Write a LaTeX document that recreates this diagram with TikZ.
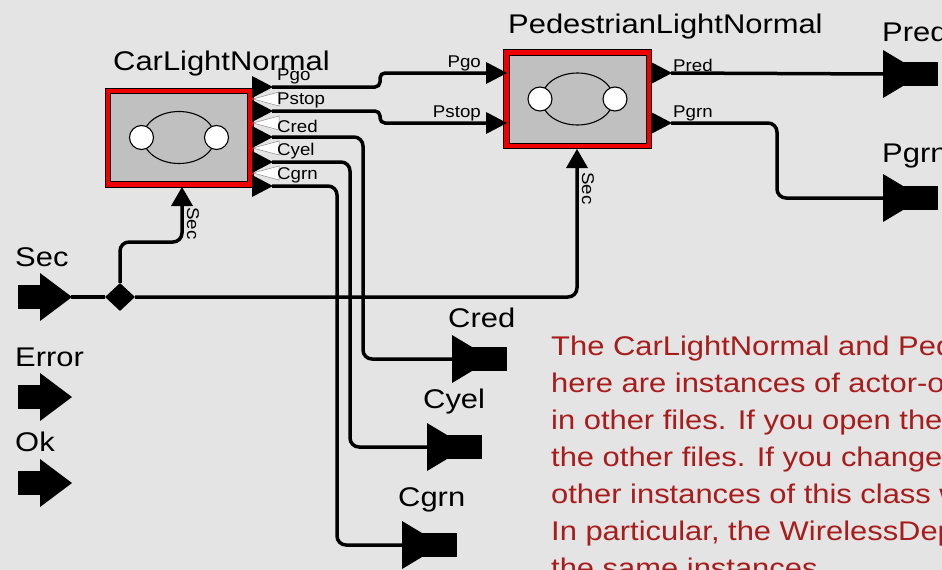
\documentclass[tikz,border=0pt]{standalone}
\usepackage{fontspec}
\setmainfont{Liberation Sans}[FakeStretch=1.1]
\newfontfamily\widefont{Liberation Sans}[FakeStretch=1.145]
\usetikzlibrary{shapes.geometric}
\definecolor{bg}{HTML}{E4E4E4}
\definecolor{boxgray}{HTML}{C0C0C0}
\definecolor{notered}{HTML}{A81C1C}
\definecolor{bandred}{HTML}{F00000}
\tikzset{
  bigtxt/.style={font=\widefont\fontsize{27}{32}\selectfont, inner sep=0pt, anchor=base west},
  smalltxt/.style={font=\fontsize{17}{19}\selectfont, inner sep=0pt, anchor=base west},
  notetxt/.style={font=\widefont\fontsize{27}{32}\selectfont, inner sep=0pt, anchor=base west, text=notered},
  wire/.style={line width=3.5pt, rounded corners=9pt},
  stepwire/.style={line width=3.5pt, rounded corners=5pt},
  outerbox/.style={draw=black, line width=1pt, fill=bandred, minimum width=148pt, minimum height=99pt, inner sep=0pt},
  innerbox/.style={draw=black, line width=0.8pt, fill=boxgray, minimum width=137pt, minimum height=88pt, inner sep=0pt},
  relation/.style={diamond, fill=black, minimum width=30pt, minimum height=28pt, inner sep=0pt},
  fsmicon/.pic={
    \draw[line width=1.1pt] (0,0) ellipse [x radius=36pt, y radius=26pt];
    \draw[line width=1.1pt, fill=white] (-37.5,0) circle [radius=12pt];
    \draw[line width=1.1pt, fill=white] (37.5,0) circle [radius=12pt];
  },
  rtri/.pic={\fill (0,-11) -- (21,0) -- (0,11) -- cycle;},
  utri/.pic={\fill (-11,0) -- (0,-19) -- (11,0) -- cycle;},
  wedge/.pic={\filldraw[fill=white, draw=black!45, line width=0.5pt] (0,0) -- (26,-7) -- (26,7) -- cycle;},
  oport/.pic={\fill (0,-24) -- (40,0) -- (0,24) -- cycle; \fill (20,-12) rectangle (55,12);},
  iport/.pic={\fill (-32,-24) -- (0,0) -- (-32,24) -- cycle; \fill (-54,-12) rectangle (-32,12);}
}
\begin{document}
\begin{tikzpicture}[x=1pt,y=-1pt]
\useasboundingbox (0,0) rectangle (942,570);
\fill[bg] (0,0) rectangle (942,570);
\clip (0,0) rectangle (942,570);

% actors
\node[outerbox] (car) at (179,137.5) {};
\node[innerbox] (carin) at (car.center) {};
\pic at (car.center) {fsmicon};
\node[outerbox] (ped) at (577.5,99) {};
\node[innerbox] (pedin) at (ped.center) {};
\pic at (ped.center) {fsmicon};

\node[bigtxt] (cartitle) at (113,70) {CarLightNormal};
\node[bigtxt] (pedtitle) at (508,33) {PedestrianLightNormal};

% car ports
\pic at (253,99) {wedge};
\pic at (253,123) {wedge};
\pic at (253,148) {wedge};
\pic at (253,173) {wedge};
\pic at (252,87) {rtri};
\pic at (252,111) {rtri};
\pic at (252,137) {rtri};
\pic at (252,162) {rtri};
\pic at (252,186) {rtri};
\coordinate (cPgo) at (272,87);
\coordinate (cPstop) at (272,111);
\coordinate (cCred) at (272,137);
\coordinate (cCyel) at (272,162);
\coordinate (cCgrn) at (272,186);
\pic at (182,206) {utri};
\coordinate (cSec) at (182,205);

\node[smalltxt] (lPgo) at (277,80) {Pgo};
\node[smalltxt] (lPstop) at (277,104) {Pstop};
\node[smalltxt] (lCred) at (277,132) {Cred};
\node[smalltxt] (lCyel) at (277,155) {Cyel};
\node[smalltxt] (lCgrn) at (277,179) {Cgrn};
\node[smalltxt, rotate=-90] (lSecC) at (187,207) {Sec};

% pedestrian ports
\pic at (486,73) {rtri};
\pic at (486,123) {rtri};
\pic at (651,73) {rtri};
\pic at (651,123) {rtri};
\coordinate (pPgo) at (487,73);
\coordinate (pPstop) at (487,123);
\coordinate (pPred) at (671,73);
\coordinate (pPgrn) at (671,123);
\pic at (577,168) {utri};
\coordinate (pSec) at (577,167);

\node[smalltxt, anchor=base east] (lpPgo) at (481,67) {Pgo};
\node[smalltxt, anchor=base east] (lpPstop) at (481,117) {Pstop};
\node[smalltxt] (lpPred) at (673,71) {Pred};
\node[smalltxt] (lpPgrn) at (673,117) {Pgrn};
\node[smalltxt, rotate=-90] (lSecP) at (582,172) {Sec};

% external ports
\pic at (72,297) {iport};
\coordinate (secOut) at (71,297);
\pic at (72,397) {iport};
\pic at (72,483) {iport};
\node[bigtxt] (lSec) at (15,266) {Sec};
\node[bigtxt] (lError) at (15,366) {Error};
\node[bigtxt] (lOk) at (15,451) {Ok};

\pic at (883,74) {oport};
\coordinate (predIn) at (884,74);
\pic at (883,198) {oport};
\coordinate (pgrnIn) at (884,198);
\pic at (452,359) {oport};
\coordinate (credIn) at (453,359);
\pic at (427,447) {oport};
\coordinate (cyelIn) at (428,447);
\pic at (402,545) {oport};
\coordinate (cgrnIn) at (403,545);
\node[bigtxt] (lPred) at (882,41) {Pred};
\node[bigtxt] (lPgrn) at (882,162) {Pgrn};
\node[bigtxt] (lCredO) at (448,327) {Cred};
\node[bigtxt] (lCyelO) at (423,408) {Cyel};
\node[bigtxt] (lCgrnO) at (398,506) {Cgrn};

\node[relation] (rel) at (120,297) {};

% wires
\draw[stepwire] (cPgo) -- (380,87) -- (380,73) -- (pPgo);
\draw[stepwire] (cPstop) -- (380,111) -- (380,123) -- (pPstop);
\draw[wire] (cCred) -- (363,137) -- (363,359) -- (credIn);
\draw[wire] (cCyel) -- (350,162) -- (350,447) -- (cyelIn);
\draw[wire] (cCgrn) -- (337,186) -- (337,545) -- (cgrnIn);
\draw[wire] (pPred) -- (predIn);
\draw[wire] (pPgrn) -- (777,123) -- (777,198) -- (pgrnIn);
\draw[wire] (secOut) -- (rel.west);
\draw[wire] (rel.north) -- (120,242) -- (182,242) -- (cSec);
\draw[wire] (rel.east) -- (577,297) -- (pSec);

% annotation
\node[notetxt] (note1) at (551,355) {The CarLightNormal and PedestrianLightNormal};
\node[notetxt] (note2) at (551,392) {here are instances of actor-oriented classes};
\node[notetxt] (note3) at (551,429) {in other files. If you open the actors};
\node[notetxt] (note4) at (551,466) {the other files. If you change them};
\node[notetxt] (note5) at (551,503) {other instances of this class will};
\node[notetxt] (note6) at (551,540) {In particular, the WirelessDeployment};
\node[notetxt] (note7) at (551,577) {the same instances.};
\end{tikzpicture}
\end{document}
